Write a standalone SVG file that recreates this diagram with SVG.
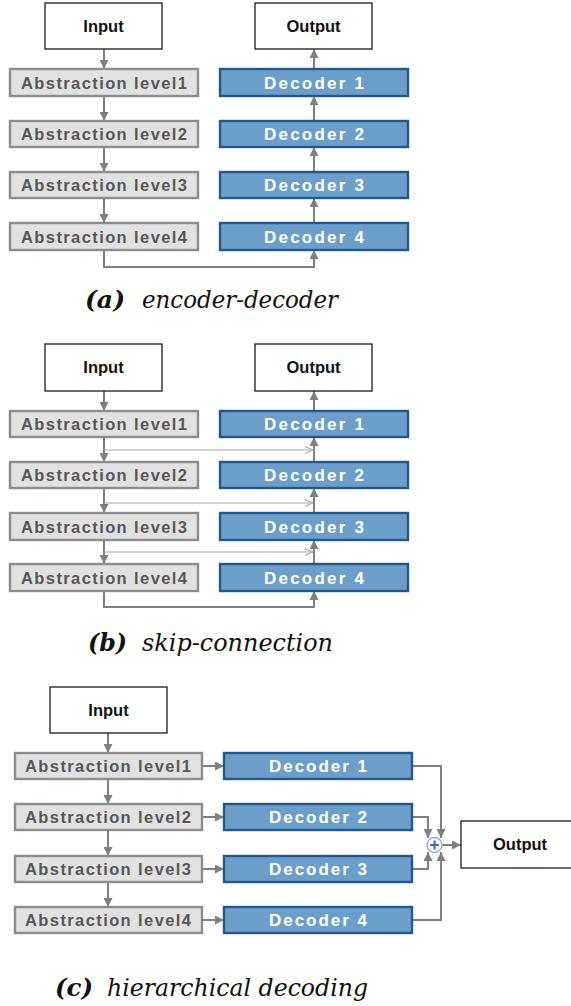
<svg xmlns="http://www.w3.org/2000/svg" width="571" height="1006" viewBox="0 0 571 1006">
  <style>
    .io { fill: #ffffff; stroke: #1a1a1a; stroke-width: 1.3; }
    .io-t { font-family: "Liberation Sans", Arial, sans-serif; font-weight: bold; font-size: 16.5px; fill: #111; text-anchor: middle; }
    .enc { fill: #e1e1e1; stroke: #8c8c8c; stroke-width: 2.4; }
    .enc-t { font-family: "Liberation Sans", Arial, sans-serif; font-weight: bold; font-size: 16.5px; fill: #575757; text-anchor: middle; }
    .dec { fill: #6b9fca; stroke: #24578a; stroke-width: 2.4; }
    .dec-t { font-family: "Liberation Sans", Arial, sans-serif; font-weight: bold; font-size: 17px; fill: #ffffff; text-anchor: middle; }
    .link { fill: none; stroke: #7f7f7f; stroke-width: 2; marker-end: url(#head); }
    .skip { fill: none; stroke: #a6a6a6; stroke-width: 1.2; marker-end: url(#open); }
    .cap { font-family: "DejaVu Serif", serif; font-size: 24px; fill: #111; }
    .cap-b { font-weight: bold; font-style: italic; }
    .cap-i { font-style: italic; }
  </style>
  <defs>
    <marker id="head" viewBox="0 0 10 10" refX="10" refY="5" markerUnits="userSpaceOnUse" markerWidth="9" markerHeight="9" orient="auto">
      <path d="M0,0 L10,5 L0,10 z" fill="#7f7f7f"/>
    </marker>
    <marker id="open" viewBox="0 0 10 10" refX="10" refY="5" markerUnits="userSpaceOnUse" markerWidth="9" markerHeight="9" orient="auto">
      <path d="M1,1 L10,5 L1,9" fill="none" stroke="#a6a6a6" stroke-width="1.2"/>
    </marker>
  </defs>

  <!-- ===== (a) encoder-decoder ===== -->
  <g id="a-connectors">
    <line class="link" x1="104" y1="49" x2="104" y2="69"/>
    <line class="link" x1="104" y1="96" x2="104" y2="121"/>
    <line class="link" x1="104" y1="147" x2="104" y2="172"/>
    <line class="link" x1="104" y1="198" x2="104" y2="223"/>
    <polyline class="link" points="104,250 104,267 314,267 314,250"/>
    <line class="link" x1="314" y1="223" x2="314" y2="198"/>
    <line class="link" x1="314" y1="172" x2="314" y2="147"/>
    <line class="link" x1="314" y1="121" x2="314" y2="96"/>
    <line class="link" x1="314" y1="69" x2="314" y2="49"/>
  </g>
  <g id="a-input"><rect class="io" x="45" y="3" width="117" height="46"/><text class="io-t" x="103.5" y="31.5">Input</text></g>
  <g id="a-output"><rect class="io" x="255" y="3" width="117" height="46"/><text class="io-t" x="313.5" y="31.5">Output</text></g>
  <g id="a-enc1"><rect class="enc" x="10" y="69" width="188" height="27"/><text class="enc-t" x="104" y="88.5" textLength="166">Abstraction level1</text></g>
  <g id="a-enc2"><rect class="enc" x="10" y="121" width="188" height="26"/><text class="enc-t" x="104" y="140" textLength="166">Abstraction level2</text></g>
  <g id="a-enc3"><rect class="enc" x="10" y="172" width="188" height="26"/><text class="enc-t" x="104" y="191" textLength="166">Abstraction level3</text></g>
  <g id="a-enc4"><rect class="enc" x="10" y="223" width="188" height="27"/><text class="enc-t" x="104" y="242.5" textLength="166">Abstraction level4</text></g>
  <g id="a-dec1"><rect class="dec" x="220" y="69" width="188" height="27"/><text class="dec-t" x="314" y="88.5" textLength="100">Decoder 1</text></g>
  <g id="a-dec2"><rect class="dec" x="220" y="121" width="188" height="26"/><text class="dec-t" x="314" y="140" textLength="100">Decoder 2</text></g>
  <g id="a-dec3"><rect class="dec" x="220" y="172" width="188" height="26"/><text class="dec-t" x="314" y="191" textLength="100">Decoder 3</text></g>
  <g id="a-dec4"><rect class="dec" x="220" y="223" width="188" height="27"/><text class="dec-t" x="314" y="242.5" textLength="100">Decoder 4</text></g>
  <text class="cap" x="85" y="308"><tspan class="cap-b" textLength="40" lengthAdjust="spacingAndGlyphs">(a)</tspan><tspan class="cap-i" x="142" textLength="196" lengthAdjust="spacingAndGlyphs">encoder-decoder</tspan></text>

  <!-- ===== (b) skip-connection ===== -->
  <g id="b-connectors">
    <line class="link" x1="104" y1="391" x2="104" y2="411"/>
    <line class="link" x1="104" y1="437" x2="104" y2="462"/>
    <line class="link" x1="104" y1="488" x2="104" y2="513"/>
    <line class="link" x1="104" y1="540" x2="104" y2="564"/>
    <polyline class="link" points="104,591 104,607 314,607 314,591"/>
    <line class="link" x1="314" y1="564" x2="314" y2="540"/>
    <line class="link" x1="314" y1="513" x2="314" y2="488"/>
    <line class="link" x1="314" y1="462" x2="314" y2="437"/>
    <line class="link" x1="314" y1="411" x2="314" y2="391"/>
    <line class="skip" x1="104" y1="450" x2="313" y2="450"/>
    <line class="skip" x1="104" y1="503" x2="313" y2="503"/>
    <line class="skip" x1="104" y1="552" x2="313" y2="552"/>
  </g>
  <g id="b-input"><rect class="io" x="45" y="344" width="117" height="47"/><text class="io-t" x="103.5" y="373">Input</text></g>
  <g id="b-output"><rect class="io" x="255" y="344" width="117" height="47"/><text class="io-t" x="313.5" y="373">Output</text></g>
  <g id="b-enc1"><rect class="enc" x="10" y="411" width="188" height="26"/><text class="enc-t" x="104" y="430" textLength="166">Abstraction level1</text></g>
  <g id="b-enc2"><rect class="enc" x="10" y="462" width="188" height="26"/><text class="enc-t" x="104" y="481" textLength="166">Abstraction level2</text></g>
  <g id="b-enc3"><rect class="enc" x="10" y="513" width="188" height="27"/><text class="enc-t" x="104" y="532.5" textLength="166">Abstraction level3</text></g>
  <g id="b-enc4"><rect class="enc" x="10" y="564" width="188" height="27"/><text class="enc-t" x="104" y="583.5" textLength="166">Abstraction level4</text></g>
  <g id="b-dec1"><rect class="dec" x="220" y="411" width="188" height="26"/><text class="dec-t" x="314" y="430" textLength="100">Decoder 1</text></g>
  <g id="b-dec2"><rect class="dec" x="220" y="462" width="188" height="26"/><text class="dec-t" x="314" y="481" textLength="100">Decoder 2</text></g>
  <g id="b-dec3"><rect class="dec" x="220" y="513" width="188" height="27"/><text class="dec-t" x="314" y="532.5" textLength="100">Decoder 3</text></g>
  <g id="b-dec4"><rect class="dec" x="220" y="564" width="188" height="27"/><text class="dec-t" x="314" y="583.5" textLength="100">Decoder 4</text></g>
  <text class="cap" x="88" y="651"><tspan class="cap-b" textLength="39" lengthAdjust="spacingAndGlyphs">(b)</tspan><tspan class="cap-i" x="142" textLength="191" lengthAdjust="spacingAndGlyphs">skip-connection</tspan></text>

  <!-- ===== (c) hierarchical decoding ===== -->
  <g id="c-connectors">
    <line class="link" x1="108" y1="733" x2="108" y2="753"/>
    <line class="link" x1="108" y1="779" x2="108" y2="804"/>
    <line class="link" x1="108" y1="830" x2="108" y2="856"/>
    <line class="link" x1="108" y1="882" x2="108" y2="907"/>
    <line class="link" x1="202" y1="766" x2="224" y2="766"/>
    <line class="link" x1="202" y1="817" x2="224" y2="817"/>
    <line class="link" x1="202" y1="869" x2="224" y2="869"/>
    <line class="link" x1="202" y1="920" x2="224" y2="920"/>
    <polyline class="link" points="412,766 441,766 441,838"/>
    <polyline class="link" points="412,817 428,817 428,838"/>
    <polyline class="link" points="412,869 428,869 428,852"/>
    <polyline class="link" points="412,920 441,920 441,852"/>
    <line class="link" x1="442" y1="845" x2="461" y2="845"/>
  </g>
  <g id="c-input"><rect class="io" x="50" y="687" width="117" height="46"/><text class="io-t" x="108.5" y="715.5">Input</text></g>
  <g id="c-sum">
    <circle cx="434.5" cy="845" r="7.5" fill="#ffffff" stroke="#8faad2" stroke-width="1.3"/>
    <path d="M430,845 H439 M434.5,840.5 V849.5" stroke="#3f6fc2" stroke-width="2.2" fill="none"/>
  </g>
  <g id="c-output"><rect class="io" x="461" y="821" width="112" height="47"/><text class="io-t" x="520" y="850">Output</text></g>
  <g id="c-enc1"><rect class="enc" x="15" y="753" width="187" height="26"/><text class="enc-t" x="108" y="772" textLength="166">Abstraction level1</text></g>
  <g id="c-enc2"><rect class="enc" x="15" y="804" width="187" height="26"/><text class="enc-t" x="108" y="823" textLength="166">Abstraction level2</text></g>
  <g id="c-enc3"><rect class="enc" x="15" y="856" width="187" height="26"/><text class="enc-t" x="108" y="875" textLength="166">Abstraction level3</text></g>
  <g id="c-enc4"><rect class="enc" x="15" y="907" width="187" height="26"/><text class="enc-t" x="108" y="926" textLength="166">Abstraction level4</text></g>
  <g id="c-dec1"><rect class="dec" x="224" y="753" width="188" height="26"/><text class="dec-t" x="318" y="772" textLength="98">Decoder 1</text></g>
  <g id="c-dec2"><rect class="dec" x="224" y="804" width="188" height="26"/><text class="dec-t" x="318" y="823" textLength="98">Decoder 2</text></g>
  <g id="c-dec3"><rect class="dec" x="224" y="856" width="188" height="26"/><text class="dec-t" x="318" y="875" textLength="98">Decoder 3</text></g>
  <g id="c-dec4"><rect class="dec" x="224" y="907" width="188" height="26"/><text class="dec-t" x="318" y="926" textLength="98">Decoder 4</text></g>
  <text class="cap" x="55" y="996"><tspan class="cap-b" textLength="38" lengthAdjust="spacingAndGlyphs">(c)</tspan><tspan class="cap-i" x="107" textLength="261" lengthAdjust="spacingAndGlyphs">hierarchical decoding</tspan></text>
</svg>
